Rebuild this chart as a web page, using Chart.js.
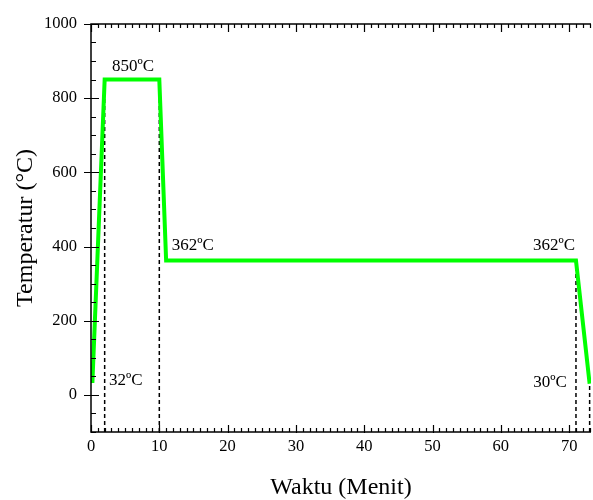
<!DOCTYPE html>
<html>
<head>
<meta charset="utf-8">
<script src="https://cdn.jsdelivr.net/npm/chart.js@4/dist/chart.umd.min.js"></script>
<style>
  html, body { margin: 0; padding: 0; background: #fff; }
  #wrap { width: 593px; height: 500px; }
</style>
</head>
<body>
<div id="wrap"><canvas id="chart"></canvas></div>
<script>
// heat treatment profile (time in minutes, temperature in C)
const waktu = [0.2, 2, 10, 11, 71, 73];
const temperatur = [32, 850, 850, 362, 362, 30];

// dashed guide lines: x position and the temperature they reach
const guideX = [2, 10, 71, 73];
const guideTop = [850, 850, 362, 30];

// text labels on the plot
const labelText = ['850ºC', '362ºC', '32ºC', '362ºC', '30ºC'];
const labelX = [6.15, 14.9, 5.1, 67.8, 67.2];
const labelY = [885, 403, 40, 403, 32];

// tick labels
const xTicks = [0, 10, 20, 30, 40, 50, 60, 70];
const yTicks = [0, 200, 400, 600, 800, 1000];

const xMinor = 1;
const yMinor = 50;

const serif = '"Liberation Serif", "Times New Roman", serif';

const datasets = [{
    data: waktu.map((x, i) => ({x: x, y: temperatur[i]})),
    borderColor: '#00ff00',
    borderWidth: 4,
    pointRadius: 0,
    tension: 0,
    borderJoinStyle: 'miter'
}];
guideX.forEach((x, i) => {
    datasets.push({
        data: [{x: x, y: -100}, {x: x, y: guideTop[i]}],
        borderColor: '#000',
        borderWidth: 1.5,
        borderDash: [4, 3],
        pointRadius: 0
    });
});

// frame and ticks like an Origin plot
const framePlugin = {
    id: 'frame',
    afterDraw(chart) {
        const ctx = chart.ctx;
        const a = chart.chartArea;
        const xs = chart.scales.x, ys = chart.scales.y;
        ctx.save();
        ctx.strokeStyle = '#000';
        ctx.lineWidth = 1.5;
        ctx.beginPath();
        ctx.moveTo(a.right, a.top); ctx.lineTo(a.left, a.top);
        ctx.lineTo(a.left, a.bottom); ctx.lineTo(a.right, a.bottom);
        ctx.stroke();
        ctx.lineWidth = 1.2;
        ctx.beginPath();
        for (let v = 0; v <= xs.max + 0.001; v += xMinor) {
            const px = Math.round(xs.getPixelForValue(v)) + 0.5;
            const major = xTicks.includes(v);
            const len = major ? 7 : 4;
            ctx.moveTo(px, a.bottom + (major ? 1 : 0)); ctx.lineTo(px, a.bottom - len);
            ctx.moveTo(px, a.top); ctx.lineTo(px, a.top + (major ? 8 : 4));
        }
        for (let v = ys.min; v <= ys.max + 0.001; v += yMinor) {
            const py = Math.round(ys.getPixelForValue(v)) + 0.5;
            if (yTicks.includes(v)) {
                ctx.moveTo(a.left - 7, py); ctx.lineTo(a.left + 8, py);
            } else {
                ctx.moveTo(a.left, py); ctx.lineTo(a.left + 5, py);
            }
        }
        ctx.stroke();
        ctx.restore();
    }
};

const labelPlugin = {
    id: 'labels',
    afterDatasetsDraw(chart) {
        const ctx = chart.ctx;
        const xs = chart.scales.x, ys = chart.scales.y;
        ctx.save();
        ctx.fillStyle = '#000';
        ctx.font = '17px ' + serif;
        ctx.textAlign = 'center';
        ctx.textBaseline = 'middle';
        labelText.forEach((t, i) => {
            ctx.fillText(t, xs.getPixelForValue(labelX[i]), ys.getPixelForValue(labelY[i]));
        });
        ctx.restore();
    }
};

new Chart(document.getElementById('chart'), {
    type: 'line',
    data: { datasets: datasets },
    options: {
        responsive: true,
        maintainAspectRatio: false,
        animation: false,
        events: [],
        layout: { padding: { top: 15, right: 2, left: 0, bottom: 0 } },
        plugins: { legend: { display: false }, tooltip: { enabled: false } },
        scales: {
            x: {
                type: 'linear',
                min: 0,
                max: 73.2,
                grid: { display: false, drawTicks: false },
                border: { display: false },
                afterBuildTicks: (s) => { s.ticks = xTicks.map(v => ({value: v})); },
                afterFit: (s) => { s.height = 68; },
                ticks: { padding: 5, color: '#000', maxRotation: 0, autoSkip: false,
                         callback: (v) => String(v),
                         font: { family: serif, size: 16.5 } },
                title: { display: true, text: 'Waktu (Menit)', color: '#000',
                         padding: { top: 0, bottom: -2 }, font: { family: serif, size: 24 } }
            },
            y: {
                min: -100,
                max: 1000,
                grid: { display: false, drawTicks: false },
                border: { display: false },
                afterBuildTicks: (s) => { s.ticks = yTicks.map(v => ({value: v})); },
                afterFit: (s) => { s.width = 91; },
                ticks: { padding: 14, color: '#000', autoSkip: false,
                         callback: (v) => String(v),
                         font: { family: serif, size: 16.5 } },
                title: { display: true, text: 'Temperatur (°C)', color: '#000',
                         padding: { top: 11, bottom: 0 }, font: { family: serif, size: 24 } }
            }
        }
    },
    plugins: [framePlugin, labelPlugin]
});
</script>
</body>
</html>
